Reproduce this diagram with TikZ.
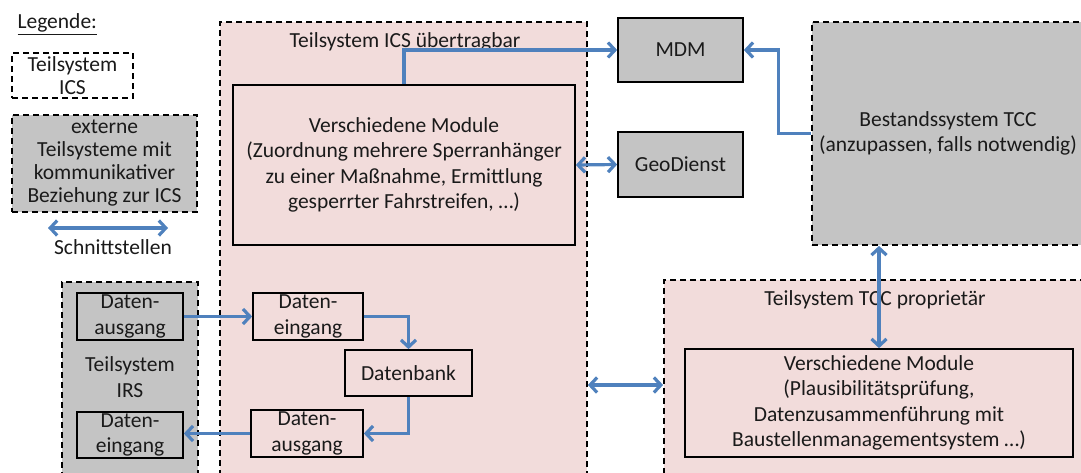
\documentclass[tikz,border=0pt]{standalone}
\usepackage{fontspec}
\setmainfont{Carlito}
\usetikzlibrary{arrows.meta,calc}
\definecolor{pinkfill}{HTML}{F2DCDB}
\definecolor{grayfill}{HTML}{C4C4C4}
\definecolor{arrowblue}{HTML}{4F81BD}
\definecolor{txt}{HTML}{1A1A1A}
\tikzset{
  every node/.style={font=\fontsize{21.5}{25.5}\selectfont, text=txt, align=center},
  dashbox/.style={draw=black, line width=1.8pt, dash pattern=on 6pt off 4pt, inner sep=0pt},
  solidbox/.style={draw=black, line width=1.7pt, inner sep=0pt},
  conn/.style={draw=arrowblue, line width=3.2pt, arrows={-Straight Barb[length=7pt,width=15pt]}},
  connboth/.style={draw=arrowblue, line width=3.2pt, arrows={Straight Barb[length=7pt,width=15pt]-Straight Barb[length=7pt,width=15pt]}},
}
\begin{document}
\begin{tikzpicture}[x=1pt,y=-1pt]
\useasboundingbox (0,0) rectangle (1081,473);
\clip (0,0) rectangle (1081,473);
% legend
\node[anchor=west] (leg) at (14,24) {\underline{Legende:}};
\node[dashbox, fill=white, minimum width=121pt, minimum height=45pt] (legics) at (72.5,75.5) {Teilsystem\\[-3pt]ICS};
\node[dashbox, fill=grayfill, minimum width=185pt, minimum height=97pt] (legext) at (104.5,163.5) {externe\\[-2.5pt]Teilsysteme mit\\[-2.5pt]kommunikativer\\[-2.5pt]Beziehung zur ICS};
\coordinate (la) at (48,228);
\coordinate (lb) at (168,228);
\draw[connboth] (la) -- (lb);
\node (schn) at (113,247) {Schnittstellen};
% containers
\node[dashbox, fill=pinkfill, minimum width=367pt, minimum height=468pt] (ics) at (403.5,256) {};
\node (icstitle) at (405,42) {Teilsystem ICS übertragbar};
\node[dashbox, fill=grayfill, minimum width=136pt, minimum height=208pt] (irs) at (130,386) {};
\node[dashbox, fill=grayfill, minimum width=272pt, minimum height=223pt] (best) at (948,133.5) {Bestandssystem TCC\\(anzupassen, falls notwendig)};
\node[dashbox, fill=pinkfill, minimum width=426pt, minimum height=210pt] (tcc) at (877,385) {};
\node (tcctitle) at (875,300) {Teilsystem TCC proprietär};
% inner boxes
\node[solidbox, fill=pinkfill, minimum width=342pt, minimum height=160pt] (modics) at (404,165) {Verschiedene Module\\(Zuordnung mehrere Sperranhänger\\zu einer Maßnahme, Ermittlung\\gesperrter Fahrstreifen, \dots)};
\node[solidbox, fill=grayfill, minimum width=125pt, minimum height=64pt] (mdm) at (680.5,50) {MDM};
\node[solidbox, fill=grayfill, minimum width=125pt, minimum height=65pt] (geo) at (680.5,164.5) {GeoDienst};
\node[solidbox, fill=pinkfill, minimum width=388pt, minimum height=108pt] (tccmod) at (879,403) {Verschiedene Module\\(Plausibilitätsprüfung,\\Datenzusammenführung mit\\Baustellenmanagementsystem \dots)};
\node[solidbox, fill=pinkfill, minimum width=110pt, minimum height=47pt] (icsin) at (308,316.5) {Daten-\\eingang};
\node[solidbox, fill=pinkfill, minimum width=127pt, minimum height=46pt] (db) at (408.5,373) {Datenbank};
\node[solidbox, fill=pinkfill, minimum width=112pt, minimum height=47pt] (icsout) at (307,433.5) {Daten-\\ausgang};
\node[solidbox, fill=grayfill, minimum width=106pt, minimum height=47pt] (irsout) at (130,316.5) {Daten-\\ausgang};
\node[solidbox, fill=grayfill, minimum width=106pt, minimum height=46pt] (irsin) at (130,435) {Daten-\\eingang};
\node (irstitle) at (130,377) {Teilsystem\\IRS};
% connectors
\draw[conn] (modics.north) |- (mdm.west);
\draw[connboth] (modics.east) -- (geo.west);
\draw[conn] (best.west) -| ([xshift=35pt]mdm.east) -- (mdm.east);
\draw[connboth] (tccmod.north |- best.south) -- (tccmod.north);
\draw[connboth] (ics.east |- tcc.west) -- (tcc.west);
\draw[conn] (irsout.east) -- (icsin.west);
\draw[conn] (icsin.east) -| (db.north);
\draw[conn] (db.south) |- (icsout.east);
\draw[conn] (icsout.west) -- (irsin.east |- icsout.west);
\end{tikzpicture}
\end{document}
